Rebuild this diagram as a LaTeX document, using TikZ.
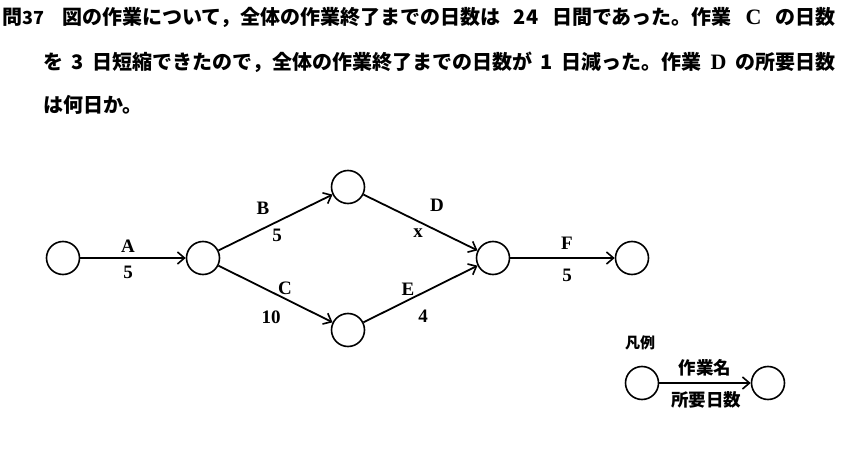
\documentclass[tikz,border=0pt]{standalone}
\usepackage{fontspec}
\usetikzlibrary{arrows.meta}
\newfontfamily\jp{Noto Sans CJK JP}
\newfontfamily\lab{Liberation Serif}
\begin{document}
\begin{tikzpicture}[x=1pt,y=-1pt,
  ev/.style={circle,draw,line width=1.6pt,minimum size=33pt,inner sep=0pt},
  arr/.style={line width=1.8pt,-{Straight Barb[length=7pt,width=12pt,line width=1.6pt]}},
  lbl/.style={font=\lab\bfseries\fontsize{19}{19}\selectfont,inner sep=0pt},
  qtext/.style={anchor=west,inner sep=0pt,font=\jp\bfseries\fontsize{20}{20}\selectfont},
  lgd/.style={inner sep=0pt,font=\jp\bfseries\fontsize{17.5}{17.5}\selectfont}]
\path[use as bounding box,fill=white] (0,0) rectangle (843,449);
% question text
\node[qtext] (q0) at (2,17) {問{\fontsize{18}{18}\selectfont 37}};
\node[qtext] (q1) at (62,17) {\makebox[773pt][s]{図の作業について，全体の作業終了までの日数は 24 日間であった。作業 {\lab\bfseries\fontsize{22}{22}\selectfont C} の日数}};
\node[qtext] (q2) at (43,62) {\makebox[792pt][s]{を 3 日短縮できたので，全体の作業終了までの日数が 1 日減った。作業 {\lab\bfseries\fontsize{22}{22}\selectfont D} の所要日数}};
\node[qtext] (q3) at (43,105) {は何日か。};
% network
\node[ev] (n1) at (63,258) {};
\node[ev] (n2) at (203,258) {};
\node[ev] (n3) at (348,187) {};
\node[ev] (n4) at (348,330) {};
\node[ev] (n5) at (493,258) {};
\node[ev] (n6) at (632,258) {};
\draw[arr] (n1) -- (n2);
\draw[arr] (n2) -- (n3);
\draw[arr] (n2) -- (n4);
\draw[arr] (n3) -- (n5);
\draw[arr] (n4) -- (n5);
\draw[arr] (n5) -- (n6);
\node[lbl] (la) at (128,246) {A};
\node[lbl] (da) at (128,272) {5};
\node[lbl] (lb) at (263,208) {B};
\node[lbl] (db) at (277,235) {5};
\node[lbl] (lc) at (285,288) {C};
\node[lbl] (dc) at (271,317) {10};
\node[lbl] (ld) at (437,205) {D};
\node[lbl] (dd) at (418,233) {x};
\node[lbl] (le) at (408,289) {E};
\node[lbl] (de) at (423,316) {4};
\node[lbl] (lf) at (567,243) {F};
\node[lbl] (df) at (567,275) {5};
% legend
\node[inner sep=0pt,font=\jp\bfseries\fontsize{15}{15}\selectfont] (lg) at (640,343) {凡例};
\node[ev] (l1) at (642,383) {};
\node[ev] (l2) at (768,383) {};
\draw[arr] (l1) -- (l2);
\node[lgd] (lgn) at (705,368) {作業名};
\node[lgd] (lgd) at (706,400) {所要日数};
\end{tikzpicture}
\end{document}
